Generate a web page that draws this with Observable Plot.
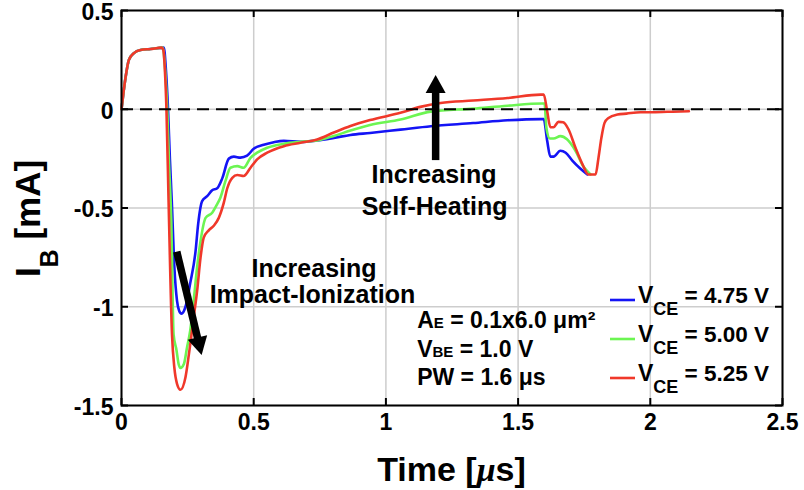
<!DOCTYPE html>
<html><head><meta charset="utf-8">
<script src="https://cdn.jsdelivr.net/npm/d3@7"></script>
<script src="https://cdn.jsdelivr.net/npm/@observablehq/plot@0.6"></script>
<style>body{margin:0;background:#fff} #chart{width:804px;height:490px}</style>
</head><body><div id="chart"></div>
<script>
// ---- data ----
const seriesNames = ["4.75", "5.00", "5.25"];
const seriesColors = ["#1414f5", "#6cf552", "#f0382a"];

const tBlue = [0,0.008,0.015,0.028,0.047,0.072,0.11,0.16,0.168,0.176,0.183,0.19,0.2,0.21,0.218,0.227,0.242,0.26,0.28,0.29,0.305,0.324,0.343,0.362,0.381,0.406,0.425,0.45,0.475,0.5,0.538,0.576,0.614,0.677,0.74,0.803,0.866,0.94,1.055,1.17,1.33,1.46,1.585,1.597,1.61,1.622,1.634,1.66,1.68,1.705,1.735,1.762];
const iBlue = [0,0.09,0.158,0.25,0.284,0.3,0.305,0.312,0.2,0.0,-0.25,-0.46,-0.80,-0.97,-1.02,-1.035,-1.0,-0.88,-0.72,-0.58,-0.465,-0.44,-0.41,-0.40,-0.35,-0.25,-0.24,-0.245,-0.235,-0.20,-0.18,-0.167,-0.16,-0.165,-0.158,-0.145,-0.13,-0.12,-0.103,-0.086,-0.07,-0.056,-0.05,-0.05,-0.16,-0.24,-0.24,-0.21,-0.22,-0.26,-0.30,-0.33];

const tGreen = [0,0.008,0.015,0.028,0.047,0.072,0.11,0.156,0.165,0.173,0.18,0.188,0.197,0.208,0.216,0.223,0.236,0.248,0.26,0.273,0.286,0.299,0.318,0.343,0.362,0.374,0.393,0.412,0.438,0.462,0.488,0.513,0.551,0.614,0.677,0.74,0.803,0.866,0.94,1.055,1.17,1.33,1.46,1.59,1.6,1.607,1.62,1.634,1.66,1.685,1.717,1.747,1.774];
const iGreen = [0,0.09,0.158,0.25,0.284,0.3,0.305,0.312,0.2,0.0,-0.28,-0.55,-1.14,-1.22,-1.29,-1.31,-1.29,-1.205,-1.12,-0.97,-0.80,-0.667,-0.55,-0.524,-0.48,-0.448,-0.364,-0.296,-0.288,-0.296,-0.246,-0.22,-0.195,-0.175,-0.165,-0.158,-0.135,-0.108,-0.08,-0.052,-0.012,0.003,0.018,0.029,0.029,-0.094,-0.148,-0.148,-0.136,-0.152,-0.21,-0.29,-0.33];

const tRed = [0,0.008,0.015,0.028,0.047,0.072,0.11,0.152,0.158,0.164,0.17,0.178,0.191,0.2,0.21,0.223,0.242,0.255,0.273,0.286,0.299,0.311,0.33,0.349,0.368,0.387,0.40,0.419,0.438,0.462,0.488,0.513,0.551,0.614,0.677,0.74,0.803,0.866,0.94,1.055,1.13,1.207,1.33,1.46,1.585,1.597,1.61,1.622,1.634,1.653,1.67,1.69,1.717,1.744,1.766,1.793,1.804,1.815,1.827,1.842,1.876,1.91,1.963,2.0,2.064,2.146];
const iRed = [0,0.09,0.158,0.25,0.284,0.3,0.305,0.312,0.30,0.2,0.0,-0.46,-1.14,-1.31,-1.39,-1.42,-1.357,-1.24,-1.054,-0.92,-0.75,-0.65,-0.613,-0.59,-0.55,-0.473,-0.40,-0.347,-0.333,-0.338,-0.296,-0.254,-0.22,-0.187,-0.17,-0.153,-0.118,-0.085,-0.055,-0.018,0.012,0.032,0.044,0.057,0.074,0.074,-0.01,-0.091,-0.091,-0.064,-0.066,-0.10,-0.195,-0.28,-0.33,-0.33,-0.246,-0.145,-0.069,-0.044,-0.027,-0.022,-0.015,-0.015,-0.013,-0.01];

const xTicks = [0, 0.5, 1, 1.5, 2, 2.5];
const yTicks = [-1.5, -1, -0.5, 0, 0.5];
const xLabel = "Time [", xLabelMu = "μ", xLabelEnd = "s]";
const yLabelMain = "I", yLabelSub = "B", yLabelEnd = " [mA]";

// annotation anchors in data units
const arrows = [
  {x1: 0.211, y1: -0.724, x2: 0.305, y2: -1.247},
  {x1: 1.19, y1: -0.26, x2: 1.19, y2: 0.171}
];
const notes = [
  {x: 0.73, y: -0.852, text: "Increasing"},
  {x: 0.724, y: -0.984, text: "Impact-Ionization"},
  {x: 1.184, y: -0.376, text: "Increasing"},
  {x: 1.186, y: -0.538, text: "Self-Heating"}
];
const params = [
  {x: 1.12, y: -1.11, main: "A", sub: "E", rest: " = 0.1x6.0 μm²"},
  {x: 1.12, y: -1.257, main: "V", sub: "BE", rest: " = 1.0 V"},
  {x: 1.12, y: -1.399, main: "PW", sub: "", rest: " = 1.6 μs"}
];

// ---- build rows ----
const rows = [];
[[tBlue, iBlue], [tGreen, iGreen], [tRed, iRed]].forEach(([ts, is], k) => {
  ts.forEach((t, j) => rows.push({series: seriesNames[k], t, i: is[j]}));
});

const W = 804, H = 490, mL = 121, mR = 22, mT = 10, mB = 85;
const innerW = W - mL - mR, innerH = H - mT - mB;
const tickLen = 7;
const font = "'Liberation Sans', Arial, Helvetica, sans-serif";

const plot = Plot.plot({
  width: W, height: H,
  marginLeft: mL, marginRight: mR, marginTop: mT, marginBottom: mB,
  style: {fontFamily: font, fontWeight: "bold", background: "white", overflow: "visible"},
  x: {domain: [0, 2.5]},
  y: {domain: [-1.5, 0.5]},
  color: {domain: seriesNames, range: seriesColors},
  marks: [
    Plot.gridX(xTicks, {stroke: "#cdcdcd", strokeOpacity: 1, strokeWidth: 1.5}),
    Plot.gridY(yTicks, {stroke: "#cdcdcd", strokeOpacity: 1, strokeWidth: 1.5}),
    Plot.line(rows, {x: "t", y: "i", z: "series", stroke: "series", curve: "monotone-x", strokeWidth: 2.6}),
    Plot.ruleY([0], {stroke: "black", strokeWidth: 2, strokeDasharray: "12,7"}),
    Plot.tickX(xTicks, {x: d => d, stroke: "black", strokeWidth: 2, insetTop: innerH - tickLen}),
    Plot.tickX(xTicks, {x: d => d, stroke: "black", strokeWidth: 2, insetBottom: innerH - tickLen}),
    Plot.tickY(yTicks, {y: d => d, stroke: "black", strokeWidth: 2, insetRight: innerW - tickLen}),
    Plot.tickY(yTicks, {y: d => d, stroke: "black", strokeWidth: 2, insetLeft: innerW - tickLen}),
    Plot.frame({stroke: "black", strokeWidth: 2}),
    Plot.axisX({ticks: xTicks, tickSize: 0, tickPadding: 8, tickFormat: d => String(d), fontSize: 23, fontWeight: "bold", label: null}),
    Plot.axisY({ticks: yTicks, tickSize: 0, tickPadding: 8, tickFormat: d => String(d), fontSize: 23, fontWeight: "bold", label: null, dy: 2})
  ]
});

const svg = d3.select(plot);
const xs = plot.scale("x"), ys = plot.scale("y");
const X = v => xs.apply(v), Y = v => ys.apply(v);
const g = svg.append("g").attr("font-family", font).attr("font-weight", "bold").attr("fill", "black");

// arrows
arrows.forEach(a => {
  const x1 = X(a.x1), y1 = Y(a.y1), x2 = X(a.x2), y2 = Y(a.y2);
  const dx = x2 - x1, dy = y2 - y1, L = Math.hypot(dx, dy), ux = dx / L, uy = dy / L;
  const hl = 18, hw = 10;
  const bx = x2 - ux * hl, by = y2 - uy * hl;
  g.append("line").attr("x1", x1).attr("y1", y1).attr("x2", bx + ux * 2).attr("y2", by + uy * 2)
    .attr("stroke", "black").attr("stroke-width", 7.5);
  g.append("path").attr("d", `M${x2},${y2}L${bx - uy * hw},${by + ux * hw}L${bx + uy * hw},${by - ux * hw}Z`).attr("fill", "black");
});

// notes
notes.forEach(n => {
  g.append("text").attr("x", X(n.x)).attr("y", Y(n.y)).attr("text-anchor", "middle")
    .attr("font-size", 25).text(n.text);
});

// params
params.forEach(p => {
  const t = g.append("text").attr("x", X(p.x)).attr("y", Y(p.y)).attr("text-anchor", "start").attr("font-size", 23);
  t.append("tspan").text(p.main);
  if (p.sub) t.append("tspan").attr("font-size", 15).text(p.sub);
  t.append("tspan").text(p.rest);
});

// legend (pixel layout inside the frame)
const legX = 610, legY = 300, legStep = 39;
seriesNames.forEach((s, k) => {
  const y = legY + k * legStep;
  g.append("line").attr("x1", legX).attr("x2", legX + 25).attr("y1", y).attr("y2", y)
    .attr("stroke", seriesColors[k]).attr("stroke-width", 2.6);
  const t = g.append("text").attr("x", legX + 28).attr("y", y + 3).attr("text-anchor", "start").attr("font-size", 23);
  t.append("tspan").text("V");
  t.append("tspan").attr("font-size", 18).attr("dy", 12).text("CE");
  t.append("tspan").attr("font-size", 22.5).attr("dy", -12).text(` = ${s} V`);
});

// axis titles
const xt = g.append("text").attr("x", mL + innerW / 2).attr("y", 481).attr("text-anchor", "middle").attr("font-size", 34);
xt.append("tspan").text(xLabel);
xt.append("tspan").attr("font-family", "'Liberation Serif', 'DejaVu Serif', serif").attr("font-style", "italic").text(xLabelMu);
xt.append("tspan").text(xLabelEnd);

const yt = g.append("text").attr("transform", `translate(40,${mT + innerH / 2 + 11}) rotate(-90)`)
  .attr("text-anchor", "middle").attr("font-size", 35);
yt.append("tspan").text(yLabelMain);
yt.append("tspan").attr("font-size", 25).attr("dy", 18).text(yLabelSub);
yt.append("tspan").attr("dy", -18).text(yLabelEnd);

document.getElementById("chart").appendChild(plot);
</script>
</body></html>
